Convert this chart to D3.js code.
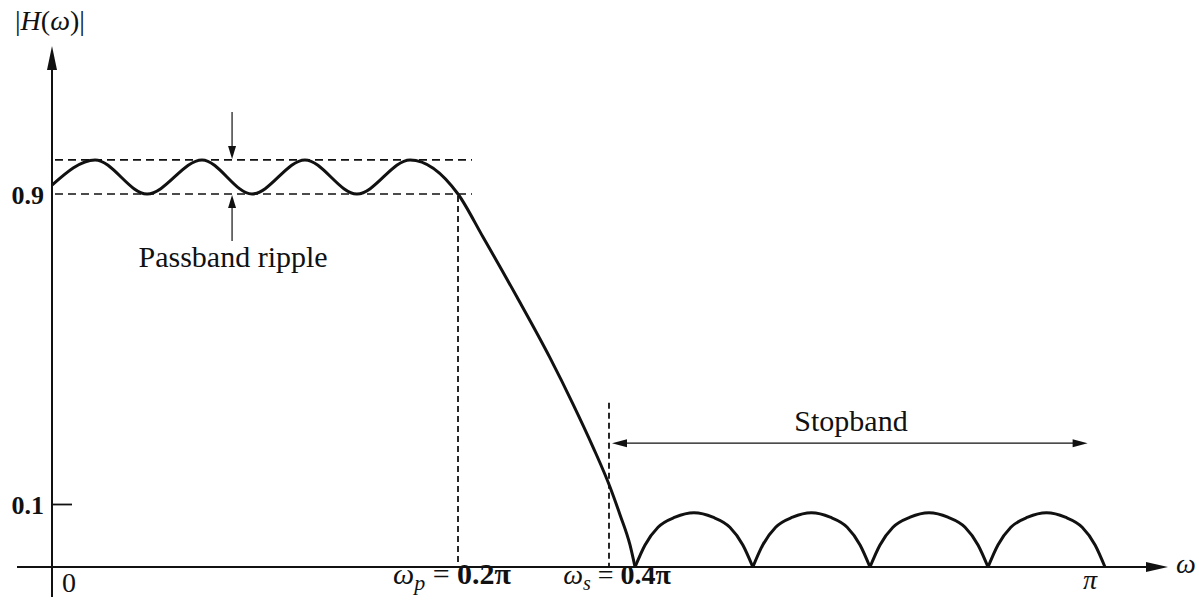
<!DOCTYPE html>
<html>
<head>
<meta charset="utf-8">
<script src="https://cdn.jsdelivr.net/npm/d3@7"></script>
<style>
  body { margin: 0; background: #fff; }
  svg { display: block; }
  text { font-family: "Liberation Serif", "Times New Roman", serif; fill: #111; }
</style>
</head>
<body>
<svg id="chart" width="1199" height="601"></svg>
<script>
// Frequency ω is given in units of π, magnitude is |H(ω)|.

// Equiripple passband, ending at the passband edge
const passband = [
  [0.0000, 0.923], [0.0212, 0.988], [0.0468, 0.900], [0.0739, 0.988],
  [0.0985, 0.900], [0.1246, 0.988], [0.1502, 0.900], [0.1764, 0.988],
  [0.2000, 0.900]
];

// Transition band roll-off down to the first stopband zero
const transition = [
  [0.2331, 0.789], [0.2781, 0.634], [0.3219, 0.477], [0.3523, 0.358],
  [0.3788, 0.247], [0.4012, 0.144], [0.4133, 0.083], [0.4254, 0.035],
  [0.4315, 0.000]
];

// Stopband lobes between consecutive zeros
const lobe1 = [[0.4315, 0], [0.4436, 0.035], [0.4593, 0.063], [0.4800, 0.079], [0.5028, 0.086], [0.5256, 0.079], [0.5462, 0.063], [0.5619, 0.035], [0.5740, 0]];
const lobe2 = [[0.5740, 0], [0.5860, 0.035], [0.6016, 0.063], [0.6222, 0.079], [0.6449, 0.086], [0.6675, 0.079], [0.6881, 0.063], [0.7037, 0.035], [0.7157, 0]];
const lobe3 = [[0.7157, 0], [0.7278, 0.035], [0.7435, 0.063], [0.7643, 0.079], [0.7871, 0.086], [0.8099, 0.079], [0.8307, 0.063], [0.8464, 0.035], [0.8585, 0]];
const lobe4 = [[0.8585, 0], [0.8705, 0.035], [0.8861, 0.063], [0.9066, 0.079], [0.9293, 0.086], [0.9519, 0.079], [0.9724, 0.063], [0.9880, 0.035], [1.0000, 0]];
const stopbandLobes = [lobe1, lobe2, lobe3, lobe4];

// Band edges and ripple bounds
const omegaP = 0.2;
const omegaS = 0.4;
const rippleTop = 0.988;
const rippleBottom = 0.9;

// Axis ticks
const yTickValues = [0.1, 0.9];
const yTickLabels = ["0.1", "0.9"];

const ink = "#111";
const svg = d3.select("#chart");

// Schematic (piecewise) scales: breakpoints at the band edges / ripple level
const x = d3.scaleLinear().domain([0, omegaP, omegaS, 1]).range([52, 458, 609, 1105]);
const y = d3.scaleLinear().domain([0, 0.1, 0.9]).range([567, 504, 194]);

const line = d3.line().x(d => x(d[0])).y(d => y(d[1])).curve(d3.curveMonotoneX);

function arrowHead(px, py, dir, len = 13, half = 4.5) {
  // dir: "up", "down", "left", "right" — tip at (px, py)
  let pts;
  if (dir === "up") pts = [[px, py], [px - half, py + len], [px + half, py + len]];
  else if (dir === "down") pts = [[px, py], [px - half, py - len], [px + half, py - len]];
  else if (dir === "left") pts = [[px, py], [px + len, py - half], [px + len, py + half]];
  else pts = [[px, py], [px - len, py - half], [px - len, py + half]];
  svg.append("path").attr("d", "M" + pts.join("L") + "Z").attr("fill", ink);
}

// ---- Axes ----
const x0 = x(0), yBase = y(0);
svg.append("line").attr("x1", 17).attr("x2", 1150).attr("y1", yBase).attr("y2", yBase)
  .attr("stroke", ink).attr("stroke-width", 2);
arrowHead(1168, yBase, "right", 22, 5);
svg.append("line").attr("x1", x0).attr("x2", x0).attr("y1", 597).attr("y2", 64)
  .attr("stroke", ink).attr("stroke-width", 2);
arrowHead(x0, 46, "up", 24, 5);

// y ticks via d3 axis: marks point inward, labels sit to the left
const yAxis = d3.axisLeft(y).tickValues(yTickValues)
  .tickFormat((d, i) => yTickLabels[i]).tickSize(-20).tickPadding(8);
const gy = svg.append("g").attr("transform", `translate(${x0},0)`).call(yAxis);
gy.select(".domain").remove();
gy.selectAll(".tick line").attr("stroke", ink).attr("stroke-width", 1.8)
  .filter(d => d === 0.9).remove();
gy.selectAll(".tick text")
  .style("font-family", '"Liberation Serif","Times New Roman",serif')
  .style("font-weight", "bold").style("font-size", "26px").attr("fill", ink)
  .attr("dy", "0.36em");

// ---- Dashed guide lines ----
const dashH = "8,5", dashV = "6,4";
[rippleTop, rippleBottom].forEach(v => {
  svg.append("line").attr("x1", x0 + 3).attr("x2", x(omegaP) + 14)
    .attr("y1", y(v)).attr("y2", y(v))
    .attr("stroke", ink).attr("stroke-width", 1.6).attr("stroke-dasharray", dashH);
});
svg.append("line").attr("x1", x(omegaP)).attr("x2", x(omegaP))
  .attr("y1", y(rippleBottom) + 2).attr("y2", yBase)
  .attr("stroke", ink).attr("stroke-width", 1.8).attr("stroke-dasharray", dashV);
svg.append("line").attr("x1", x(omegaS)).attr("x2", x(omegaS))
  .attr("y1", y(0.361)).attr("y2", yBase)
  .attr("stroke", ink).attr("stroke-width", 1.8).attr("stroke-dasharray", dashV);

// ---- Response curve ----
svg.append("path").datum(passband.concat(transition))
  .attr("d", line).attr("fill", "none").attr("stroke", ink)
  .attr("stroke-width", 3).attr("stroke-linejoin", "round");
svg.selectAll(".lobe").data(stopbandLobes).join("path").attr("class", "lobe")
  .attr("d", line).attr("fill", "none").attr("stroke", ink).attr("stroke-width", 3);

// ---- Passband ripple annotation ----
const ax = x(0.0887);
svg.append("line").attr("x1", ax).attr("x2", ax).attr("y1", 112).attr("y2", y(rippleTop) - 10)
  .attr("stroke", ink).attr("stroke-width", 1.2);
arrowHead(ax, y(rippleTop) - 1, "down", 13, 4);
svg.append("line").attr("x1", ax).attr("x2", ax).attr("y1", y(rippleBottom) + 10).attr("y2", 241)
  .attr("stroke", ink).attr("stroke-width", 1.2);
arrowHead(ax, y(rippleBottom) + 1, "up", 13, 4);
svg.append("text").attr("x", ax + 1).attr("y", 267).attr("text-anchor", "middle")
  .style("font-size", "30px").text("Passband ripple");

// ---- Stopband annotation ----
const sy = y(0.257);
const sx1 = x(0.4036), sx2 = x(0.979);
svg.append("line").attr("x1", sx1 + 8).attr("x2", sx2 - 8).attr("y1", sy).attr("y2", sy)
  .attr("stroke", ink).attr("stroke-width", 1.2);
arrowHead(sx1, sy, "left", 15, 4);
arrowHead(sx2, sy, "right", 15, 4);
svg.append("text").attr("x", 851).attr("y", 431).attr("text-anchor", "middle")
  .style("font-size", "30px").text("Stopband");

// ---- Axis titles and frequency labels ----
const yTitle = svg.append("text").attr("x", 15).attr("y", 30).style("font-size", "28px");
yTitle.append("tspan").text("|");
yTitle.append("tspan").style("font-style", "italic").text("H");
yTitle.append("tspan").text("(");
yTitle.append("tspan").style("font-style", "italic").text("ω");
yTitle.append("tspan").text(")|");

svg.append("text").attr("x", 1176).attr("y", 573).style("font-size", "28px")
  .style("font-style", "italic").text("ω");

svg.append("text").attr("x", x(0) + 10).attr("y", 592).style("font-size", "28px").text("0");

function edgeLabel(cx, sub, value, size) {
  const t = svg.append("text").attr("x", cx).attr("y", 584).attr("text-anchor", "middle")
    .style("font-size", size + "px");
  t.append("tspan").style("font-style", "italic").text("ω");
  t.append("tspan").style("font-style", "italic").style("font-size", (size - 8) + "px")
    .attr("dy", 6).text(sub);
  t.append("tspan").attr("dy", -6).text(" = ");
  t.append("tspan").style("font-weight", "bold").text(value);
}
edgeLabel(x(omegaP) - 6, "p", "0.2π", 30);
edgeLabel(x(omegaS) + 8, "s", "0.4π", 28);

svg.append("text").attr("x", x(1) - 15).attr("y", 589).attr("text-anchor", "middle")
  .style("font-size", "28px").style("font-style", "italic").text("π");
</script>
</body>
</html>
